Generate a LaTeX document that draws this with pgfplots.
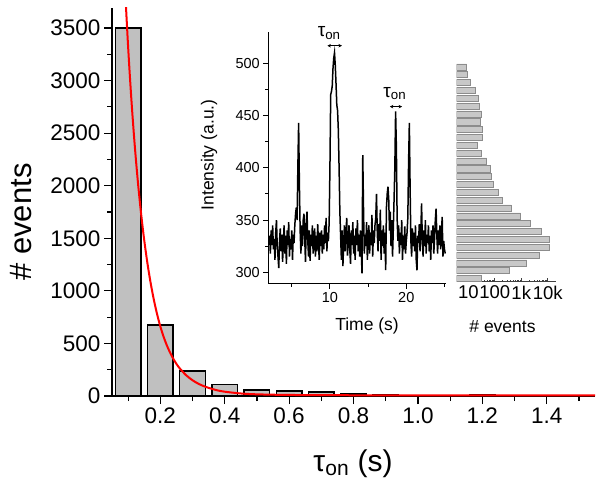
\documentclass[border=0pt]{standalone}
\usepackage{fontspec}
\setmainfont{Liberation Sans}
\usepackage{pgfplots}
\usepackage{pgfplotstable}
\pgfplotsset{compat=1.18}
\usetikzlibrary{arrows.meta}
\definecolor{barfill}{RGB}{192,192,192}
\definecolor{histfill}{RGB}{200,200,200}
\definecolor{histedge}{RGB}{140,140,140}

\pgfplotstableread[row sep=\\]{
t I\\
2.0 328\\2.1 335\\2.2 318\\2.3 340\\2.4 326\\2.5 345\\2.6 322\\2.7 332\\2.8 312\\2.9 338\\
3.0 350\\3.1 325\\3.2 315\\3.3 304\\3.4 330\\3.5 342\\3.6 320\\3.7 336\\3.8 310\\3.9 328\\
4.0 345\\4.1 318\\4.2 335\\4.3 308\\4.4 340\\4.5 326\\4.6 348\\4.7 315\\4.8 332\\4.9 322\\
5.0 340\\5.1 312\\5.2 336\\5.3 328\\5.4 345\\5.5 356\\5.6 362\\5.7 350\\5.8 400\\5.9 443\\
6.0 385\\6.1 340\\6.2 318\\6.3 345\\6.4 325\\6.5 350\\6.6 356\\6.7 332\\6.8 310\\6.9 348\\
7.0 358\\7.1 330\\7.2 315\\7.3 340\\7.4 311\\7.5 336\\7.6 325\\7.7 345\\7.8 318\\7.9 330\\
8.0 342\\8.1 315\\8.2 335\\8.3 320\\8.4 346\\8.5 328\\8.6 312\\8.7 338\\8.8 325\\8.9 340\\
9.0 318\\9.1 336\\9.2 322\\9.3 345\\9.4 328\\9.5 352\\9.6 320\\9.7 338\\9.8 330\\9.9 348\\
10.0 400\\10.1 470\\10.2 473\\10.3 478\\10.4 495\\10.5 505\\10.6 510\\10.7 498\\10.8 480\\10.9 460\\
11.0 455\\11.1 436\\11.2 400\\11.3 358\\11.4 335\\11.5 312\\11.6 340\\11.7 306\\11.8 328\\11.9 345\\
12.0 320\\12.1 338\\12.2 352\\12.3 316\\12.4 330\\12.5 345\\12.6 322\\12.7 308\\12.8 340\\12.9 326\\
13.0 348\\13.1 318\\13.2 335\\13.3 312\\13.4 342\\13.5 326\\13.6 350\\13.7 320\\13.8 336\\13.9 315\\
14.0 340\\14.1 322\\14.2 299\\14.3 412\\14.4 360\\14.5 318\\14.6 336\\14.7 325\\14.8 348\\14.9 312\\
15.0 330\\15.1 345\\15.2 318\\15.3 338\\15.4 326\\15.5 355\\15.6 315\\15.7 340\\15.8 328\\15.9 345\\
16.0 352\\16.1 375\\16.2 338\\16.3 320\\16.4 346\\16.5 330\\16.6 360\\16.7 312\\16.8 340\\16.9 325\\
17.0 345\\17.1 318\\17.2 338\\17.3 302\\17.4 362\\17.5 375\\17.6 382\\17.7 370\\17.8 340\\17.9 358\\
18.0 325\\18.1 350\\18.2 315\\18.3 342\\18.4 370\\18.5 400\\18.6 454\\18.7 420\\18.8 352\\18.9 330\\
19.0 345\\19.1 318\\19.2 338\\19.3 326\\19.4 350\\19.5 312\\19.6 335\\19.7 322\\19.8 344\\19.9 318\\
20.0 330\\20.1 338\\20.2 352\\20.3 405\\20.4 443\\20.5 380\\20.6 330\\20.7 315\\20.8 342\\20.9 325\\
21.0 338\\21.1 320\\21.2 345\\21.3 312\\21.4 302\\21.5 335\\21.6 328\\21.7 346\\21.8 320\\21.9 338\\
22.0 366\\22.1 330\\22.2 315\\22.3 340\\22.4 325\\22.5 350\\22.6 318\\22.7 336\\22.8 328\\22.9 345\\
23.0 320\\23.1 335\\23.2 312\\23.3 340\\23.4 328\\23.5 345\\23.6 318\\23.7 332\\23.8 350\\23.9 361\\
24.0 335\\24.1 318\\24.2 340\\24.3 326\\24.4 345\\24.5 322\\24.6 338\\24.7 353\\24.8 315\\24.9 330\\
25.0 322\\25.1 318\\
}\tracedata

\pgfplotstableread[row sep=\\]{
n I\\
8.7 496.5\\ 9.5 489\\ 12 481.5\\ 18 474\\ 24 466.5\\ 26 459\\ 32 451.5\\ 29 444\\
35 436.5\\ 34 429\\ 22 421.5\\ 32 414\\ 49 406.5\\ 66 399\\ 72 391.5\\ 88 384\\
135 376.5\\ 200 369\\ 410 361.5\\ 950 354\\ 2140 346.5\\ 5500 339\\ 11000 331.5\\
11000 324\\ 4800 316.5\\ 1600 309\\ 340 301.5\\ 32 294\\
}\histdata

\begin{document}
\begin{tikzpicture}[x=1pt,y=1pt]
\useasboundingbox (0,0) rectangle (604,493);

% ---------------- main axis ----------------
\begin{axis}[
  at={(112pt,97pt)}, anchor=south west,
  scale only axis, width=483pt, height=388pt,
  xmin=0.05, xmax=1.55, ymin=0, ymax=3690,
  axis x line*=bottom, axis y line*=left,
  axis line style={line width=1.2pt},
  tick align=outside,
  major tick length=8pt, minor tick length=5pt,
  every tick/.style={black, line width=1.2pt},
  xtick={0.2,0.4,0.6,0.8,1.0,1.2,1.4},
  xticklabels={0.2,0.4,0.6,0.8,1.0,1.2,1.4},
  minor xtick={0.1,0.3,0.5,0.7,0.9,1.1,1.3,1.5},
  ytick={0,500,1000,1500,2000,2500,3000,3500},
  yticklabels={0,500,1000,1500,2000,2500,3000,3500},
  minor ytick={250,750,1250,1750,2250,2750,3250},
  tick label style={font=\fontsize{22.5}{26}\selectfont},
  /pgf/number format/assume math mode=true,
]
\addplot[ybar, bar width=0.08, fill=barfill, draw=black, line width=1.4pt]
  coordinates {(0.1,3500) (0.2,676) (0.3,236) (0.4,112) (0.5,56) (0.6,47)
               (0.7,37) (0.8,19) (0.9,17) (1.2,17)};
\addplot[red, line width=2pt, smooth]
  coordinates {(0.09,3904) (0.10,3323) (0.11,2828) (0.12,2407) (0.13,2049)
    (0.14,1744) (0.15,1484) (0.16,1263) (0.17,1075) (0.18,915) (0.19,779)
    (0.20,663) (0.21,566) (0.22,484) (0.23,415) (0.24,356) (0.25,306)
    (0.26,264) (0.28,198) (0.30,150) (0.32,114) (0.34,88) (0.36,68)
    (0.38,52) (0.40,41) (0.45,24) (0.50,16) (0.60,10) (0.80,7) (1.00,6) (1.55,5)};
\end{axis}

% ---------------- inset: time trace ----------------
\begin{axis}[
  at={(268.3pt,209.5pt)}, anchor=south west,
  scale only axis, width=177.7pt, height=251.8pt,
  xmin=1.93, xmax=25.2, ymin=289.3, ymax=530.2,
  axis x line*=bottom, axis y line*=left,
  axis line style={line width=1.1pt},
  clip=false,
  tick align=outside,
  major tick length=5pt, minor tick length=3pt,
  every tick/.style={black, line width=1pt},
  xtick={10,20}, xticklabels={10,20},
  minor xtick={5,15,25},
  ytick={300,350,400,450,500}, yticklabels={300,350,400,450,500},
  minor ytick={325,375,425,475},
  tick label style={font=\fontsize{14.5}{17}\selectfont},
  /pgf/number format/assume math mode=true,
]
\addplot[black, line width=1.5pt] table[x=t, y=I] {\tracedata};
\draw[{Stealth[length=3.5pt,width=3.5pt]}-{Stealth[length=3.5pt,width=3.5pt]}, line width=0.7pt]
  (axis cs:9.67,516.8) -- (axis cs:11.57,516.8);
\node[font=\fontsize{19}{22}\selectfont, inner sep=0pt] at (axis cs:9.9,529) {τ\textsubscript{on}};
\draw[{Stealth[length=3.5pt,width=3.5pt]}-{Stealth[length=3.5pt,width=3.5pt]}, line width=0.7pt]
  (axis cs:17.84,458.5) -- (axis cs:19.45,458.5);
\node[font=\fontsize{19}{22}\selectfont, inner sep=0pt] at (axis cs:18.5,471) {τ\textsubscript{on}};
\end{axis}

% ---------------- inset: intensity histogram ----------------
\begin{axis}[
  at={(456.7pt,211.5pt)}, anchor=south west,
  scale only axis, width=99.3pt, height=249.8pt,
  xmode=log, xmin=3.65, xmax=20500, ymin=291.2, ymax=530.2,
  log origin x=infty,
  axis x line*=bottom, axis y line=none,
  axis line style={line width=0.9pt, black!75},
  tick align=inside,
  major tick length=3pt, minor tick length=1.8pt,
  every tick/.style={black!75, line width=0.6pt},
  xtick={10,100,1000,10000}, xticklabels={10,100,1k,10k},
  tick label style={font=\fontsize{18.5}{22}\selectfont},
  xticklabel style={yshift=-1pt},
]
\addplot[xbar, bar width=5.8, fill=histfill, draw=histedge, line width=0.6pt]
  table[x=n, y=I] {\histdata};
\end{axis}

% ---------------- axis labels ----------------
\node[rotate=90, font=\fontsize{31}{36}\selectfont] at (21,271) {\# events};
\node[font=\fontsize{30}{36}\selectfont] at (353,29) {τ\textsubscript{on} (s)};
\node[rotate=90, font=\fontsize{17.5}{21}\selectfont] at (209,338) {Intensity (a.u.)};
\node[font=\fontsize{17.5}{21}\selectfont] at (367,167) {Time (s)};
\node[font=\fontsize{17.5}{21}\selectfont] at (502.5,166) {\# events};
\end{tikzpicture}
\end{document}
